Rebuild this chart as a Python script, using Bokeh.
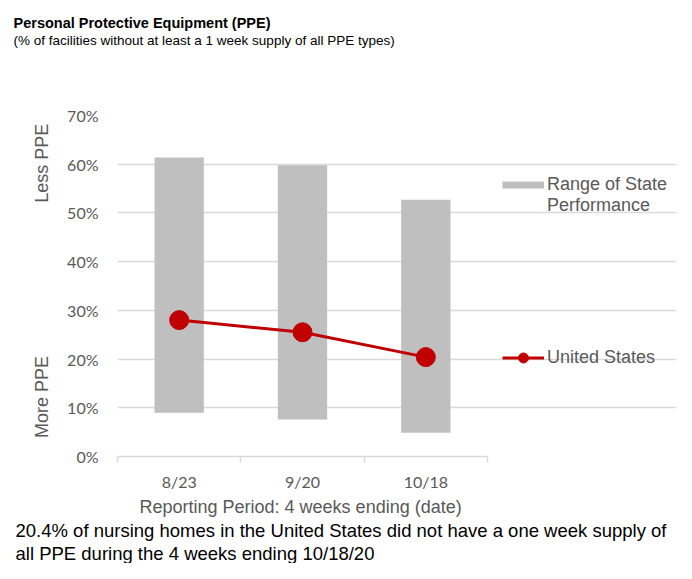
from bokeh.plotting import figure
from bokeh.models import (ColumnDataSource, Range1d, FixedTicker, Legend,
                          LegendItem, LinearAxis, Title)
from bokeh.embed import file_html
from bokeh.resources import INLINE

# ---- data ----
periods = ["8/23", "9/20", "10/18"]
state_low = [9.0, 7.6, 4.9]
state_high = [61.4, 59.8, 52.7]
us_values = [28.0, 25.5, 20.4]
y_ticks = [0, 10, 20, 30, 40, 50, 60, 70]
y_tick_labels = ["0%", "10%", "20%", "30%", "40%", "50%", "60%", "70%"]
side_label_pos = [60.2, 12.2]
side_labels = ["Less PPE", "More PPE"]

title_text = "Personal Protective Equipment (PPE)"
subtitle_text = "(% of facilities without at least a 1 week supply of all PPE types)"
x_title = "Reporting Period: 4 weeks ending (date)"
legend_range = "\u00a0\nRange of State\nPerformance"
legend_us = "United States"
note_lines = ["20.4% of nursing homes in the United States did not have a one week supply of",
              "all PPE during the 4 weeks ending 10/18/20"]

GRID = "#D9D9D9"
GRAYTXT = "#595959"
BAR = "#BFBFBF"
RED = "#C00000"
FONT = "Liberation Sans"

W, H = 676, 563
L, T, B = 117, 115, 105
CHART_W = 370                 # pixel width of the category area
NX = len(periods)
X_END = NX * (W - L) / CHART_W  # frame runs on to the right edge to host the legend

x_pos = [i + 0.5 for i in range(NX)]
src = ColumnDataSource(dict(x=x_pos, low=state_low, high=state_high, us=us_values))

p = figure(width=W, height=H, x_range=Range1d(0, X_END), y_range=Range1d(0, y_ticks[-1]),
           output_backend="svg", toolbar_location=None, title=None,
           min_border_left=L, min_border_right=0, min_border_top=T, min_border_bottom=B)
p.background_fill_color = "white"
p.border_fill_color = "white"
p.outline_line_color = None

bars = p.vbar(x="x", width=0.4, bottom="low", top="high", source=src,
              fill_color=BAR, line_color=None)
us_line = p.line("x", "us", source=src, line_color=RED, line_width=3)
us_pts = p.scatter("x", "us", source=src, size=19, fill_color=RED, line_color=RED)
# hidden renderer that only supplies the legend swatch of the range bars
range_swatch = p.line("x", "high", source=src, line_color=BAR, line_width=7, visible=False)

# x axis
p.xaxis.bounds = (0, NX)
p.xaxis.ticker = FixedTicker(ticks=x_pos, minor_ticks=list(range(NX + 1)))
p.xaxis.major_label_overrides = {x: lab for x, lab in zip(x_pos, periods)}
p.xaxis.axis_line_color = GRID
p.xaxis.axis_line_width = 1.5
p.xaxis.major_tick_line_color = None
p.xaxis.minor_tick_line_color = GRID
p.xaxis.minor_tick_line_width = 1.5
p.xaxis.minor_tick_in = 0
p.xaxis.minor_tick_out = 6
p.xaxis.major_label_standoff = 9
p.xaxis.major_label_text_font = "Lato"
p.xaxis.major_label_text_font_size = "16px"
p.xaxis.major_label_text_color = GRAYTXT

# y axis
p.yaxis.ticker = FixedTicker(ticks=y_ticks)
p.yaxis.major_label_overrides = {t: lab for t, lab in zip(y_ticks, y_tick_labels)}
p.yaxis.axis_line_color = None
p.yaxis.major_tick_line_color = None
p.yaxis.minor_tick_line_color = None
p.yaxis.major_label_standoff = 13
p.yaxis.major_label_text_font = "Lato"
p.yaxis.major_label_text_font_size = "16px"
p.yaxis.major_label_text_color = GRAYTXT

side_axis = LinearAxis(ticker=FixedTicker(ticks=side_label_pos),
                       major_label_overrides={t: lab for t, lab in zip(side_label_pos, side_labels)},
                       major_label_orientation="vertical",
                       axis_line_color=None, major_tick_line_color=None,
                       minor_tick_line_color=None, major_label_standoff=6,
                       major_label_text_font=FONT,
                       major_label_text_font_size="18px",
                       major_label_text_color=GRAYTXT)
p.add_layout(side_axis, "left")

p.xgrid.grid_line_color = None
p.ygrid.grid_line_color = GRID
p.ygrid.grid_line_width = 1.5
p.ygrid.bounds = (0, NX)

# legend (inside the frame, right of the categories)
legend = Legend(items=[LegendItem(label=legend_range, renderers=[range_swatch]),
                       LegendItem(label=legend_us, renderers=[us_line, us_pts])],
                location=(385, 86), glyph_width=42, glyph_height=25, label_standoff=3,
                padding=0, margin=0, spacing=129, border_line_color=None,
                background_fill_alpha=0, inactive_fill_alpha=0,
                label_text_font=FONT, label_text_font_size="18px",
                label_text_color=GRAYTXT, label_text_line_height=1.15)
p.add_layout(legend)


def title(text, size, standoff, offset, style="normal", color="black"):
    return Title(text=text, align="left", offset=offset, standoff=standoff,
                 text_font=FONT, text_font_size=size, text_font_style=style,
                 text_color=color)


# heading: panels stack outwards from the frame
p.add_layout(title("\u00a0", "1px", 64.5, -104), "above")          # spacer
p.add_layout(title(subtitle_text, "13.5px", 0, -104), "above")
p.add_layout(title(title_text, "14.5px", 0, -104, style="bold"), "above")

# axis title and note below the chart
p.add_layout(title(x_title, "18px", 2, 22, color=GRAYTXT), "below")
p.add_layout(title(note_lines[0], "18.5px", 0, -102), "below")
p.add_layout(title(note_lines[1], "18.5px", 0, -102), "below")

open("out.html", "w").write(file_html(p, INLINE))
